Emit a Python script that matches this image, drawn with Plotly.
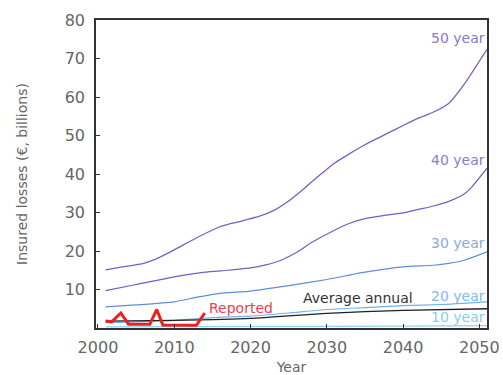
import plotly.graph_objects as go

# Projected insured losses by return period (€ billions)
years_50 = [2001, 2003, 2006, 2008, 2010, 2013, 2016, 2018, 2021, 2023, 2025, 2027, 2029, 2031,
            2033, 2035, 2038, 2040, 2042, 2044, 2046, 2048, 2051]
loss_50 = [15.1, 15.8, 16.8, 18.3, 20.3, 23.5, 26.3, 27.4, 28.9, 30.5, 33.0, 36.2, 39.6, 42.8,
           45.3, 47.6, 50.6, 52.6, 54.5, 56.1, 58.4, 63.3, 72.4]

years_40 = [2001, 2005, 2010, 2014, 2017, 2020, 2022, 2024, 2026, 2028, 2031, 2033, 2035, 2038,
            2040, 2042, 2044, 2046, 2048, 2049, 2051]
loss_40 = [9.7, 11.3, 13.3, 14.5, 15.0, 15.6, 16.4, 17.6, 19.6, 22.2, 25.4, 27.2, 28.4, 29.4,
           29.9, 30.8, 31.7, 32.9, 34.8, 36.6, 41.5]

years_30 = [2001, 2005, 2010, 2013, 2016, 2020, 2025, 2030, 2035, 2040, 2044, 2046, 2048, 2051]
loss_30 = [5.5, 6.0, 6.8, 8.0, 9.0, 9.6, 11.0, 12.6, 14.5, 15.9, 16.3, 16.8, 17.6, 19.8]

years_20 = [2001, 2010, 2015, 2020, 2025, 2030, 2035, 2040, 2045, 2051]
loss_20 = [1.4, 2.0, 2.7, 3.1, 3.9, 4.8, 5.3, 5.8, 6.1, 6.8]

years_10 = [2001, 2020, 2040, 2051]
loss_10 = [0.3, 0.4, 0.5, 0.6]

years_avg = [2001, 2010, 2020, 2030, 2040, 2051]
loss_avg = [1.8, 2.0, 2.5, 3.8, 4.6, 5.0]

years_rep = [2001, 2001.8, 2003, 2004, 2006.8, 2007.7, 2008.5, 2012.9, 2014]
loss_rep = [1.8, 1.6, 3.9, 1.0, 1.0, 4.8, 0.8, 0.7, 3.9]

x_ticks = [2000, 2010, 2020, 2030, 2040, 2050]
y_ticks = [10, 20, 30, 40, 50, 60, 70, 80]

FONT = "DejaVu Sans"
TEXT_GREY = "#666666"

fig = go.Figure()

series = [
    (years_10, loss_10, "#8dd3f2", 1.2),
    (years_20, loss_20, "#72b2ea", 1.2),
    (years_avg, loss_avg, "#222222", 1.3),
    (years_30, loss_30, "#5e8ed9", 1.2),
    (years_40, loss_40, "#6a62c8", 1.2),
    (years_50, loss_50, "#7a5fc2", 1.3),
]
for xs, ys, col, w in series:
    fig.add_trace(go.Scatter(x=xs, y=ys, mode="lines",
                             line=dict(color=col, width=w, shape="spline", smoothing=0.5),
                             hoverinfo="skip", showlegend=False))

fig.add_trace(go.Scatter(x=years_rep, y=loss_rep, mode="lines", line=dict(color="#ee2020", width=3),
                         hoverinfo="skip", showlegend=False))

labels = [
    ("50 year", 2051, 75.3, "right", "#8a78cc"),
    ("40 year", 2051, 43.6, "right", "#8880cc"),
    ("30 year", 2051, 22.1, "right", "#8aaae2"),
    ("20 year", 2051, 8.3, "right", "#7fbbee"),
    ("10 year", 2051, 2.9, "right", "#86d0f2"),
    ("Average annual", 2026.6, 7.8, "left", "#333333"),
    ("Reported", 2014.3, 5.2, "left", "#f04050"),
]
for txt, xv, yv, anc, col in labels:
    fig.add_annotation(x=xv, y=yv, xref="x", yref="y", text=txt, showarrow=False,
                       xanchor=anc, yanchor="middle", font=dict(family=FONT, size=14, color=col))

fig.update_layout(
    width=503, height=375,
    margin=dict(l=96, r=16, t=20, b=47),
    paper_bgcolor="white", plot_bgcolor="white",
    font=dict(family=FONT, color=TEXT_GREY),
)
fig.update_xaxes(range=[1999.74, 2051], tickvals=x_ticks, ticks="inside", ticklen=4, tickcolor="#333",
                 showline=True, linecolor="#333333", linewidth=1.5, mirror=True, showgrid=False, zeroline=False,
                 ticklabelstandoff=4, automargin=False,
                 tickfont=dict(family=FONT, size=16, color=TEXT_GREY),
                 title=dict(text="Year", font=dict(family=FONT, size=14, color=TEXT_GREY), standoff=12))
fig.update_yaxes(range=[0, 80], tickvals=y_ticks, ticks="inside", ticklen=4, tickcolor="#333",
                 showline=True, linecolor="#333333", linewidth=1.5, mirror=True, showgrid=False, zeroline=False,
                 ticklabelstandoff=6, automargin=False,
                 tickfont=dict(family=FONT, size=16, color=TEXT_GREY),
                 title=dict(text="Insured losses (€, billions)", font=dict(family=FONT, size=14, color=TEXT_GREY),
                            standoff=34))

fig.write_html("out.html")
